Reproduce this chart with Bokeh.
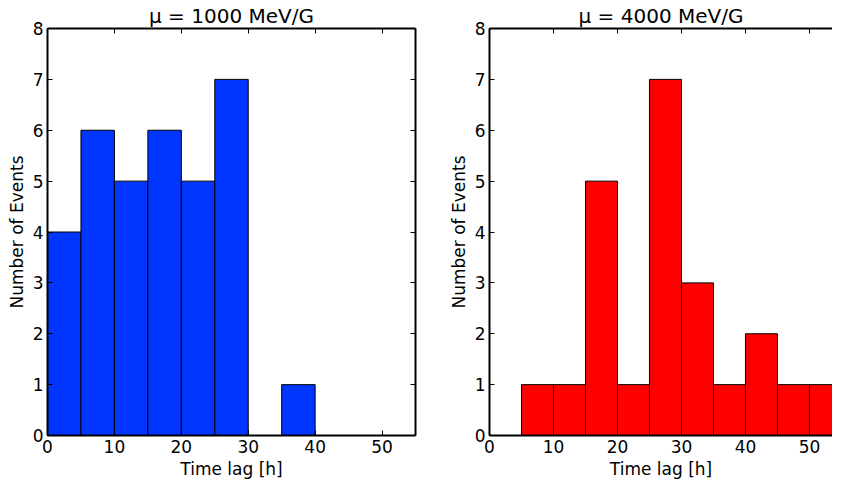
from bokeh.plotting import figure
from bokeh.layouts import row
from bokeh.models import Range1d, LinearAxis, FixedTicker
from bokeh.embed import file_html
from bokeh.resources import INLINE

# ---- data ----
bin_edges = [0, 5, 10, 15, 20, 25, 30, 35, 40, 45, 50, 55]
counts_1000 = [4, 6, 5, 6, 5, 7, 0, 1, 0, 0, 0]
counts_4000 = [0, 1, 1, 5, 1, 7, 3, 1, 2, 1, 1]
x_ticks = [0, 10, 20, 30, 40, 50]
y_ticks = [0, 1, 2, 3, 4, 5, 6, 7, 8]
titles = ["\u03bc = 1000 MeV/G", "\u03bc = 4000 MeV/G"]
bar_colors = ["#0036ff", "#ff0000"]
x_label = "Time lag [h]"
y_label = "Number of Events"

FONT = "DejaVu Sans"


def style_axis(ax, show_labels=True):
    ax.major_tick_in = 5
    ax.major_tick_out = 0
    ax.minor_tick_in = 0
    ax.minor_tick_out = 0
    ax.axis_line_width = 2
    ax.axis_line_color = "black"
    ax.major_tick_line_color = "black"
    ax.major_tick_line_width = 1
    ax.major_label_text_font = FONT
    ax.axis_label_text_font = FONT
    ax.axis_label_text_font_style = "normal"
    ax.axis_label_text_color = "black"
    ax.axis_label_text_font_size = "17px"
    ax.axis_label_standoff = 3
    if show_labels:
        ax.major_label_text_color = "black"
        ax.major_label_text_font_size = "17px"
        ax.major_label_standoff = 4
    else:
        ax.major_label_text_color = None
        ax.major_label_text_font_size = "1px"
        ax.major_label_standoff = 0


def make_panel(title, counts, color, width, x_end, b_left, b_right, with_right_axis):
    p = figure(width=width, height=481,
               x_range=Range1d(0, x_end), y_range=Range1d(0, 8),
               output_backend="svg", toolbar_location=None,
               min_border_left=b_left, min_border_right=b_right,
               min_border_top=0, min_border_bottom=0,
               x_axis_label=x_label, y_axis_label=y_label)
    p.grid.visible = False
    p.outline_line_color = None
    p.background_fill_color = "white"
    p.border_fill_color = "white"

    p.title.text = title
    p.title.align = "center"
    p.title.text_font = FONT
    p.title.text_font_size = "20px"
    p.title.text_font_style = "normal"
    p.title.text_color = "black"
    p.title.standoff = 2

    p.quad(left=bin_edges[:-1], right=bin_edges[1:], top=counts, bottom=0,
           fill_color=color, line_color="black", line_width=1)

    p.xaxis.ticker = FixedTicker(ticks=x_ticks)
    p.yaxis.ticker = FixedTicker(ticks=y_ticks)
    style_axis(p.xaxis[0])
    style_axis(p.yaxis[0])

    top = LinearAxis(ticker=FixedTicker(ticks=x_ticks))
    style_axis(top, show_labels=False)
    p.add_layout(top, "above")

    if with_right_axis:
        right = LinearAxis(ticker=FixedTicker(ticks=y_ticks))
        style_axis(right, show_labels=False)
        p.add_layout(right, "right")
    return p


p1 = make_panel(titles[0], counts_1000, bar_colors[0], 445, 55, 47, 30, True)
p2 = make_panel(titles[1], counts_4000, bar_colors[1], 387, 53.6, 42, 0, False)

layout = row(p1, p2)
open("out.html", "w").write(file_html(layout, INLINE))
